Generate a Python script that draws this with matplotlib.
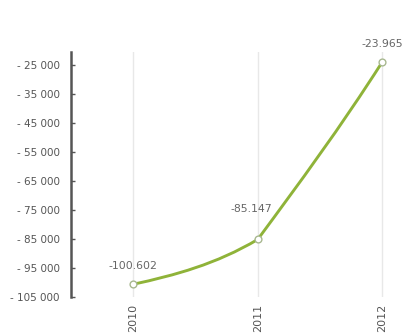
import numpy as np
import matplotlib.pyplot as plt
from matplotlib.path import Path
from matplotlib.patches import PathPatch

# datos
anios = ["2010", "2011", "2012"]
valores = [-100602, -85147, -23965]
ticks_y = [-25000, -35000, -45000, -55000, -65000, -75000, -85000, -95000, -105000]


def fmt_eje(v):
    # "- 25 000"
    s = "{:,}".format(int(abs(v))).replace(",", " ")
    return "- " + s if v < 0 else s


def fmt_etiqueta(v):
    s = "{:,}".format(int(abs(v))).replace(",", ".")
    return "-" + s if v < 0 else s


plt.rcParams['font.family'] = ['DejaVu Sans']

fig = plt.figure(figsize=(4.03, 3.33), dpi=100)
ax = fig.add_axes([71/403, 36/333, 332/403, 245/333])

x = np.arange(len(valores))
y = np.array(valores, dtype=float)

# linea suavizada: tramos bezier, pendientes inicial/final como fraccion de la cuerda
forma = [(0.6, 1.65), (0.95, 1.1)]
verts = [(x[0], y[0])]
codes = [Path.MOVETO]
for i in range(len(x) - 1):
    cuerda = (y[i+1] - y[i]) / (x[i+1] - x[i])
    m0, m1 = forma[i][0] * cuerda, forma[i][1] * cuerda
    h = (x[i+1] - x[i]) / 3
    c1 = (x[i] + h, y[i] + m0 * h)
    c2 = (x[i+1] - h, y[i+1] - m1 * h)
    verts += [c1, c2, (x[i+1], y[i+1])]
    codes += [Path.CURVE4, Path.CURVE4, Path.CURVE4]

ax.add_patch(PathPatch(Path(verts, codes), facecolor="none",
                       edgecolor="#8fb339", lw=2.1, zorder=3))
ax.scatter(x, y, s=24, facecolor="white", edgecolor="#a8b890", lw=1, zorder=4)

offsets = [(0, 13), (-5, 22), (0, 13)]
for xi, yi, off in zip(x, y, offsets):
    ax.annotate(fmt_etiqueta(yi), (xi, yi), xytext=off, textcoords="offset points",
                ha="center", va="center", fontsize=7.8, color="#666666")

for xi in x:
    ax.axvline(xi, color="#e8e8e8", lw=1, zorder=1)

ax.set_xlim(-0.5, 2.167)
ax.set_ylim(-105000, -20500)
ax.set_yticks(ticks_y)
ax.set_yticklabels([fmt_eje(t) for t in ticks_y])
ax.set_xticks(x)
ax.set_xticklabels(anios, rotation=90, va="top")

for s in ["top", "right", "bottom"]:
    ax.spines[s].set_visible(False)
ax.spines["left"].set_color("#555555")
ax.spines["left"].set_linewidth(1.8)

ax.tick_params(axis="y", direction="in", length=3, width=1, color="#555555",
               labelsize=7.5, labelcolor="#555555", pad=8)
ax.tick_params(axis="x", length=0, labelsize=8, labelcolor="#555555", pad=5)

fig.savefig("out.png", dpi=100)
